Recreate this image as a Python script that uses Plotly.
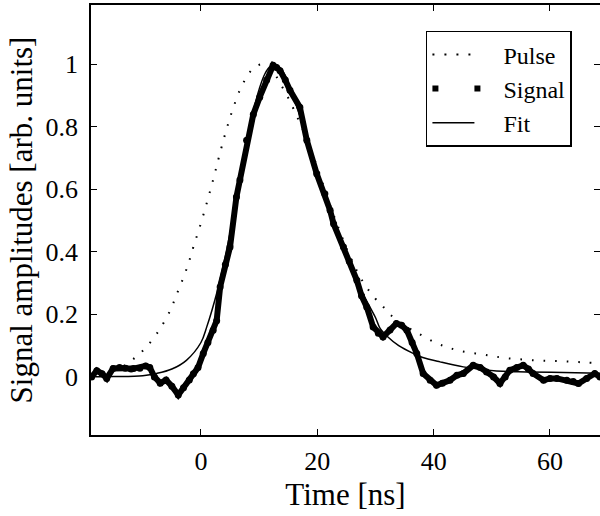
import plotly.graph_objects as go

# ---- data ----
pulse_t = [-19, -17, -15, -13.1, -11.3, -9.6, -7.2, -5.2, -4.3, -3.3, -2.2, -1.3, -0.05, 1.1, 2.2, 3.2,
           4.3, 5.5, 7.0, 8.7, 10.4, 12, 13, 14.0, 15.0, 15.9, 18, 20, 22, 24, 26, 28, 30, 31.1,
           32.5, 35, 37.4, 40.2, 42.2, 44.1, 46.1, 48.3, 50.3, 52.4, 54.4, 56.4, 58.4, 60.3,
           62.3, 64.3, 66.3, 68.6]
pulse_v = [0.005, 0.012, 0.022, 0.037, 0.062, 0.091, 0.149, 0.216, 0.258, 0.304, 0.36, 0.416, 0.489,
           0.563, 0.638, 0.711, 0.786, 0.858, 0.93, 0.981, 1.0, 0.985, 0.96, 0.927, 0.893, 0.858,
           0.77, 0.67, 0.56, 0.46, 0.37, 0.3, 0.25, 0.229, 0.2, 0.165, 0.139, 0.11, 0.096, 0.085,
           0.078, 0.072, 0.066, 0.06, 0.057, 0.054, 0.052, 0.051, 0.05, 0.048, 0.046, 0.044]

signal_t = [-18.8, -17.9, -17, -16.2, -15.1, -14, -13, -12, -11.6, -10.5, -9.5, -8.8, -8, -7, -6, -5,
            -3.9, -3, -2, -1.3, -0.5, 0.4, 1.2, 2.1, 2.7, 3.3, 4.2, 5.0, 6.1, 6.7, 7.85, 9, 10.1,
            11.3, 12.4, 13, 13.6, 14.5, 15.3, 17, 18.2, 19.9, 21.3, 22.2, 22.8, 24.5, 25.5, 26.8,
            27.6, 28.5, 29.6, 30.5, 31.3, 32.5, 33.6, 34.5, 35.4, 36.3, 37.1, 38.2, 39.4, 40.5,
            41.5, 42.8, 44, 45.1, 46.8, 48, 49.1, 50.3, 51.4, 52.3, 53.1, 54.3, 55.4, 56.3, 57.1,
            58.9, 60, 61.2, 62.9, 64, 64.9, 66.3, 67.7, 68.6]
signal_v = [0.0, 0.02, 0.01, -0.005, 0.027, 0.03, 0.028, 0.025, 0.027, 0.028, 0.035, 0.03, 0.0, -0.02,
            -0.01, -0.03, -0.058, -0.035, -0.01, 0.01, 0.03, 0.075, 0.11, 0.149, 0.18, 0.288, 0.36,
            0.416, 0.576, 0.63, 0.757, 0.84, 0.895, 0.95, 0.997, 0.99, 0.98, 0.95, 0.917, 0.863,
            0.757, 0.65, 0.586, 0.533, 0.49, 0.416, 0.37, 0.309, 0.26, 0.224, 0.16, 0.14, 0.128,
            0.15, 0.171, 0.165, 0.149, 0.11, 0.075, 0.011, -0.011, -0.027, -0.02, -0.011, 0.005,
            0.011, 0.037, 0.03, 0.016, 0.0, -0.021, 0.0, 0.021, 0.03, 0.037, 0.025, 0.011, -0.011,
            -0.005, -0.005, -0.011, -0.015, -0.021, -0.005, 0.011, 0.0]

fit_t = [-19, -15, -10, -7.6, -5, -2.5, 0, 1.0, 2.7, 4, 5, 6, 7, 8, 9, 10, 11, 12, 12.8, 14, 15, 16,
         18, 20, 22, 24, 26, 28, 30, 30.8, 32, 34, 36.5, 38, 41.1, 45.1, 50.8, 56, 62.3, 68.6]
fit_v = [0.0, 0.001, 0.004, 0.011, 0.025, 0.053, 0.11, 0.16, 0.267, 0.37, 0.46, 0.56, 0.66, 0.76,
         0.85, 0.92, 0.97, 0.995, 1.0, 0.98, 0.94, 0.89, 0.78, 0.66, 0.55, 0.44, 0.34, 0.26, 0.19,
         0.155, 0.13, 0.1, 0.075, 0.063, 0.048, 0.032, 0.019, 0.016, 0.014, 0.012]

x_ticks = [0, 20, 40, 60]
y_ticks = [0, 0.2, 0.4, 0.6, 0.8, 1]
y_tick_text = ["0", "0.2", "0.4", "0.6", "0.8", "1"]
legend_names = ["Pulse", "Signal", "Fit"]

FONT = "Liberation Serif"

fig = go.Figure()
# data traces
fig.add_trace(go.Scatter(x=pulse_t, y=pulse_v, mode="lines", name=legend_names[0], showlegend=False,
                         line_shape="spline",
                         line=dict(color="black", width=2, dash="1.6px,10px")))
fig.add_trace(go.Scatter(x=signal_t, y=signal_v, mode="lines+markers", name=legend_names[1],
                         showlegend=False,
                         line=dict(color="black", width=6),
                         marker=dict(color="black", size=7)))
fig.add_trace(go.Scatter(x=fit_t, y=fit_v, mode="lines", name=legend_names[2], showlegend=False,
                         line_shape="spline",
                         line=dict(color="black", width=1.5)))

# legend-only entries (MATLAB-style short symbols)
fig.add_trace(go.Scatter(x=[None], y=[None], mode="lines", name=legend_names[0],
                         line=dict(color="black", width=2,
                                   dash="2px,10px,2px,10px,2px,10px,2px,300px")))
fig.add_trace(go.Scatter(x=[None], y=[None], mode="lines", name=legend_names[1],
                         line=dict(color="black", width=6, dash="6px,36px,6px,300px")))
fig.add_trace(go.Scatter(x=[None], y=[None], mode="lines", name=legend_names[2],
                         line=dict(color="black", width=1.5, dash="42px,300px")))

axis_common = dict(showline=True, linecolor="black", linewidth=1.5, mirror="ticks",
                   ticks="inside", ticklen=6, tickwidth=1, tickcolor="black",
                   showgrid=False, zeroline=False, automargin=False,
                   tickfont=dict(family=FONT, size=26, color="black"))

fig.update_xaxes(range=[-18.9, 68.6], tickvals=x_ticks, ticklabelstandoff=2,
                 title=dict(text="Time [ns]", font=dict(family=FONT, size=31, color="black"), standoff=8),
                 **axis_common)
fig.update_yaxes(range=[-0.186, 1.19], tickvals=y_ticks, ticktext=y_tick_text, ticklabelstandoff=6,
                 title=dict(text="Signal amplitudes [arb. units]",
                            font=dict(family=FONT, size=31, color="black"), standoff=4),
                 **axis_common)

fig.update_layout(
    width=600, height=516,
    margin=dict(l=91, r=0, t=5, b=81, autoexpand=False),
    plot_bgcolor="white", paper_bgcolor="white",
    legend=dict(x=0.658, y=0.94, xanchor="left", yanchor="top",
                bordercolor="black", borderwidth=1.5, bgcolor="white",
                font=dict(family=FONT, size=24, color="black"), itemwidth=66,
                entrywidth=148, tracegroupgap=0),
)

fig.write_html("out.html", config={"displayModeBar": False},
               post_script="document.body.style.margin='0';document.body.style.overflow='hidden';")
